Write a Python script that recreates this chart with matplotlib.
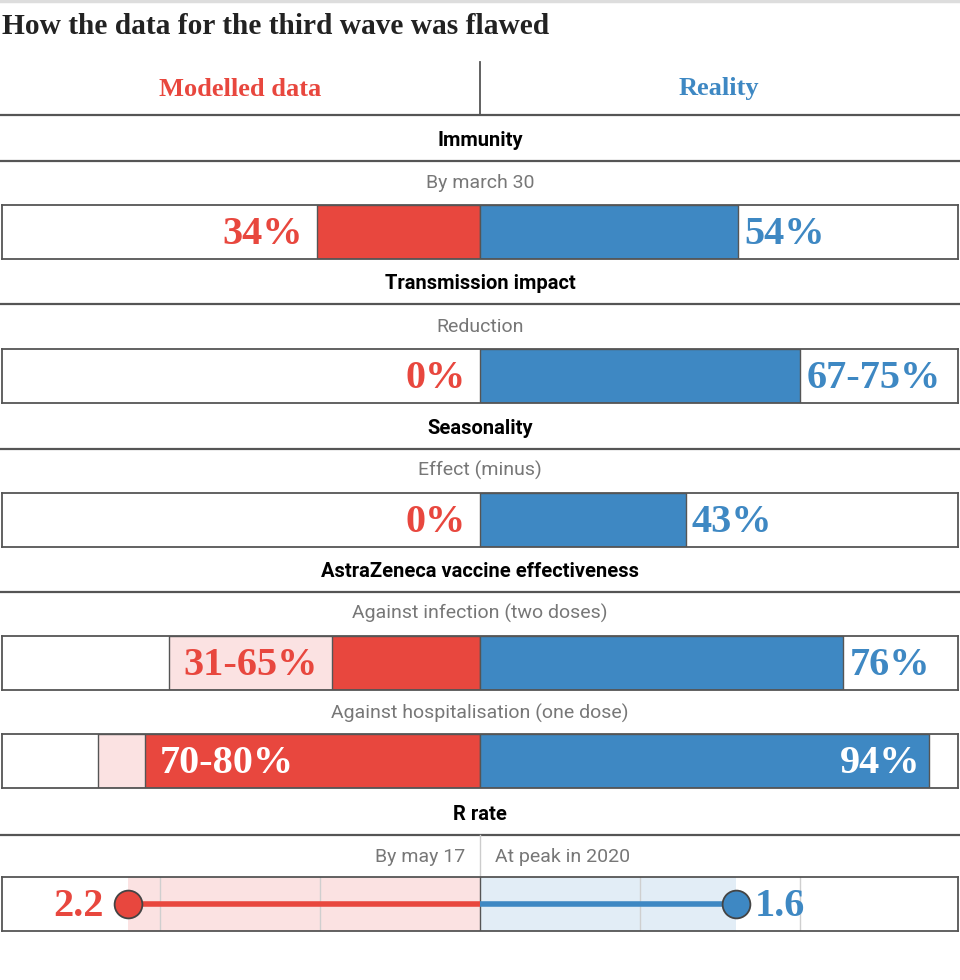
import matplotlib
matplotlib.use('Agg')
import matplotlib.pyplot as plt

# data
title = 'How the data for the third wave was flawed'
sections = ['Immunity', 'Transmission impact', 'Seasonality', 'AstraZeneca vaccine effectiveness']
row_section = [0, 1, 2, 3, 3]
subtitles = ['By march 30', 'Reduction', 'Effect (minus)',
             'Against infection (two doses)', 'Against hospitalisation (one dose)']
model_lo = [34, 0, 0, 31, 70]
model_hi = [34, 0, 0, 65, 80]
real_val = [54, 67, 43, 76, 94]
model_labels = ['34%', '0%', '0%', '31-65%', '70-80%']
real_labels = ['54%', '67-75%', '43%', '76%', '94%']
label_inside = [False, False, False, False, True]

r_title = 'R rate'
r_subtitles = ['By may 17', 'At peak in 2020']
r_model = 2.2
r_real = 1.6
r_grid = [-2, -1, 1, 2]

RED = '#e8473e'
PINK = '#fbe2e2'
BLUE = '#3e88c3'
LBLUE = '#e2edf6'
EDGE = '#555555'
GREY = '#777777'

SERIF = ['Liberation Serif', 'DejaVu Serif']
SANS = ['Roboto', 'DejaVu Sans']

W, H = 960, 980
fig = plt.figure(figsize=(9.6, 9.8), dpi=100)
bg = fig.add_axes([0, 0, 1, 1])
bg.set_xlim(0, W)
bg.set_ylim(H, 0)
bg.axis('off')

# top rule + title
bg.plot([0, W], [1.5, 1.5], color='#dddddd', lw=2.5)
bg.text(2, 26, title, family=SERIF, weight='bold', fontsize=21.2, color='#222222',
        ha='left', va='center')

# header
bg.plot([480, 480], [62, 115], color=EDGE, lw=1.3)
bg.plot([0, W], [115, 115], color=EDGE, lw=1.6)
bg.text(240, 89, 'Modelled data', family=SERIF, weight='bold', fontsize=19,
        color=RED, ha='center', va='center')
bg.text(719, 89, 'Reality', family=SERIF, weight='bold', fontsize=19,
        color=BLUE, ha='center', va='center')


def box_axes(top, xlim):
    ax = fig.add_axes([2 / W, 1 - (top + 54) / H, 956 / W, 54 / H])
    ax.set_xlim(*xlim)
    ax.set_ylim(-0.5, 0.5)
    ax.set_xticks([])
    ax.set_yticks([])
    for s in ax.spines.values():
        s.set_color(EDGE)
        s.set_linewidth(1.3)
    return ax


def section_head(y, name):
    bg.text(480, y + 1.5, name, family=SANS, weight='bold', fontsize=14.5,
            color='black', ha='center', va='center')
    bg.plot([0, W], [y + 22, y + 22], color=EDGE, lw=1.6)


box_tops = [205, 349, 493, 636, 734]
sub_ys = [181, 325, 469, 612, 712]
head_ys = [139, 282, 427, 570]

for i, name in enumerate(sections):
    section_head(head_ys[i], name)

for i in range(len(subtitles)):
    bg.text(480, sub_ys[i] + 1.5, subtitles[i], family=SANS, fontsize=14, color=GREY,
            ha='center', va='center')
    ax = box_axes(box_tops[i], (-100, 100))
    if model_hi[i] > model_lo[i]:
        ax.barh(0, -model_hi[i], height=1, color=PINK, edgecolor=EDGE, lw=1)
    if model_lo[i] > 0:
        ax.barh(0, -model_lo[i], height=1, color=RED, edgecolor=EDGE, lw=1)
    ax.barh(0, real_val[i], height=1, color=BLUE, edgecolor=EDGE, lw=1)
    if label_inside[i]:
        ax.text(-model_lo[i] + 3, -0.04, model_labels[i], family=SERIF, weight='bold',
                fontsize=29, color='white', ha='left', va='center')
        ax.text(real_val[i] - 1.8, -0.04, real_labels[i], family=SERIF, weight='bold',
                fontsize=29, color='white', ha='right', va='center')
    else:
        ax.text(-model_lo[i] - 3, -0.04, model_labels[i], family=SERIF, weight='bold',
                fontsize=29, color=RED, ha='right', va='center')
        ax.text(real_val[i] + 1.3, -0.04, real_labels[i], family=SERIF, weight='bold',
                fontsize=29, color=BLUE, ha='left', va='center')

# R rate
section_head(813, r_title)
bg.plot([480, 480], [835, 877], color='#cccccc', lw=1)
bg.text(465, 856.5, r_subtitles[0], family=SANS, fontsize=14, color=GREY,
        ha='right', va='center')
bg.text(495, 856.5, r_subtitles[1], family=SANS, fontsize=14, color=GREY,
        ha='left', va='center')

ax = box_axes(877, (-478 / 160, 478 / 160))
ax.axvspan(-r_model, 0, color=PINK, lw=0)
ax.axvspan(0, r_real, color=LBLUE, lw=0)
for g in r_grid:
    ax.axvline(g, color='#cfcfcf', lw=1)
ax.axvline(0, color=EDGE, lw=1)
ax.plot([-r_model, 0], [0, 0], color=RED, lw=4, solid_capstyle='butt')
ax.plot([0, r_real], [0, 0], color=BLUE, lw=4, solid_capstyle='butt')
ax.plot([-r_model], [0], 'o', ms=20, mfc=RED, mec='#444444', mew=1.3)
ax.plot([r_real], [0], 'o', ms=20, mfc=BLUE, mec='#444444', mew=1.3)
ax.text(-r_model - 0.15, -0.04, f'{r_model}', family=SERIF, weight='bold', fontsize=29,
        color=RED, ha='right', va='center')
ax.text(r_real + 0.12, -0.04, f'{r_real}', family=SERIF, weight='bold', fontsize=29,
        color=BLUE, ha='left', va='center')

fig.savefig('out.png', dpi=100, facecolor='white')
